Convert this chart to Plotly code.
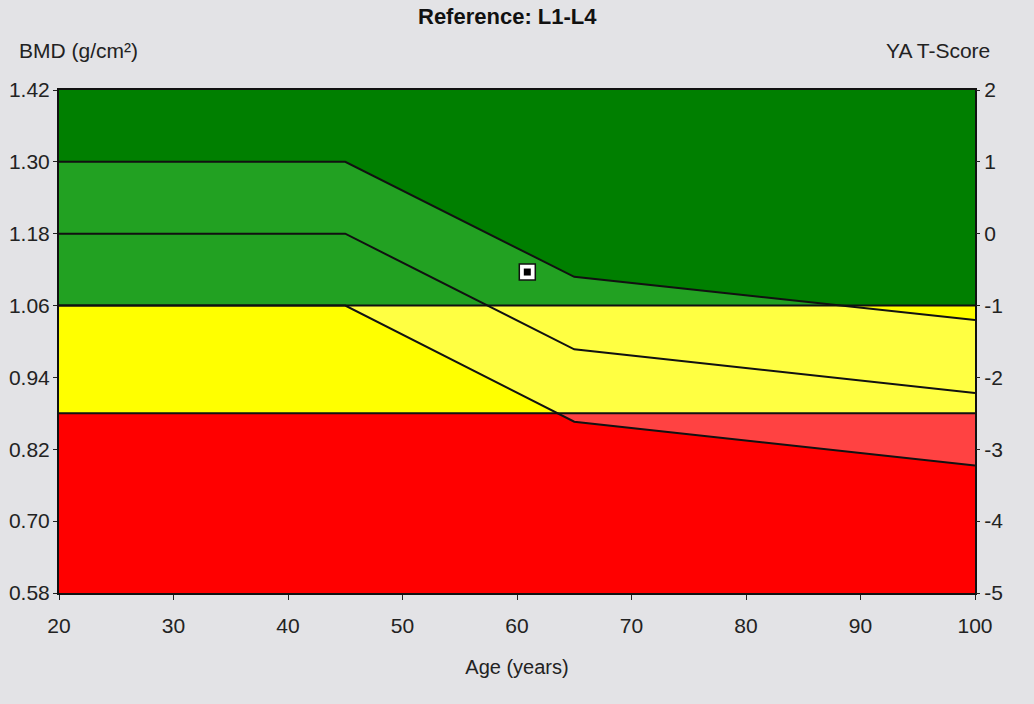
import plotly.graph_objects as go
import numpy as np

# reference curve (young adult +1 SD / mean / -1 SD)
AGES = [20, 45, 65, 100]
PLUS_SD = [1.30, 1.30, 1.108, 1.036]
MEAN = [1.18, 1.18, 0.987, 0.914]
MINUS_SD = [1.06, 1.06, 0.866, 0.793]

# T-score thresholds in BMD units
OSTEOPENIA = 1.06
OSTEOPOROSIS = 0.88

# patient result
PT_AGE = [60.9]
PT_BMD = [1.116]

Y_TICKS = [0.58, 0.70, 0.82, 0.94, 1.06, 1.18, 1.30, 1.42]
T_TICKS = [-5, -4, -3, -2, -1, 0, 1, 2]
X_TICKS = [20, 30, 40, 50, 60, 70, 80, 90, 100]

DARK_GREEN = '#007F00'
MID_GREEN = '#22A122'
YELLOW = '#FFFF00'
PALE_YELLOW = '#FFFF42'
RED = '#FF0000'
PALE_RED = '#FF4242'
BG = '#E3E3E6'
FONT = 'Liberation Sans Narrow, Liberation Sans, Arial, sans-serif'

# fine grid so clipped bands follow the curves exactly
grid = np.linspace(AGES[0], AGES[-1], 801)
hi = np.interp(grid, AGES, PLUS_SD)
lo = np.interp(grid, AGES, MINUS_SD)


def band(upper, lower, color):
    xs = np.concatenate([grid, grid[::-1]])
    ys = np.concatenate([upper, lower[::-1]])
    return go.Scatter(x=xs, y=ys, fill='toself', fillcolor=color, mode='none',
                      hoverinfo='skip', showlegend=False)


ymin, ymax = Y_TICKS[0], Y_TICKS[-1]
full_top = np.full_like(grid, ymax)
full_bot = np.full_like(grid, ymin)

fig = go.Figure()
# zones, painted bottom-up
fig.add_trace(band(full_top, full_bot, DARK_GREEN))
fig.add_trace(band(hi, lo, MID_GREEN))
fig.add_trace(band(np.full_like(grid, OSTEOPENIA), full_bot, YELLOW))
y_up = np.minimum(hi, OSTEOPENIA)
y_lo = np.minimum(np.maximum(lo, OSTEOPOROSIS), y_up)
fig.add_trace(band(y_up, y_lo, PALE_YELLOW))
fig.add_trace(band(np.full_like(grid, OSTEOPOROSIS), full_bot, RED))
r_up = np.full_like(grid, OSTEOPOROSIS)
r_lo = np.minimum(lo, OSTEOPOROSIS)
fig.add_trace(band(r_up, r_lo, PALE_RED))

# threshold lines
for lvl in [OSTEOPENIA, OSTEOPOROSIS]:
    fig.add_trace(go.Scatter(x=[AGES[0], AGES[-1]], y=[lvl, lvl], mode='lines',
                             line=dict(color='#111111', width=2),
                             hoverinfo='skip', showlegend=False))

# reference curves
for c in [PLUS_SD, MEAN, MINUS_SD]:
    fig.add_trace(go.Scatter(x=AGES, y=c, mode='lines',
                             line=dict(color='#111111', width=2),
                             hoverinfo='skip', showlegend=False))

# patient point
fig.add_trace(go.Scatter(x=PT_AGE, y=PT_BMD, mode='markers',
                         marker=dict(symbol='square', size=16, color='white',
                                     line=dict(color='#111111', width=1.5)),
                         showlegend=False))
fig.add_trace(go.Scatter(x=PT_AGE, y=PT_BMD, mode='markers',
                         marker=dict(symbol='square', size=7, color='black'),
                         showlegend=False))

# dummy trace to activate the T-score axis
fig.add_trace(go.Scatter(x=[AGES[0]], y=[T_TICKS[0]], yaxis='y2', mode='markers',
                         marker=dict(opacity=0), hoverinfo='skip', showlegend=False))

tick_font = dict(family=FONT, size=21, color='#222222')

fig.update_layout(
    width=1034, height=704,
    margin=dict(l=59, r=59, t=90, b=111),
    paper_bgcolor=BG, plot_bgcolor=DARK_GREEN,
    font=dict(family=FONT, color='#222222'),
    xaxis=dict(range=[AGES[0], AGES[-1]], tickvals=X_TICKS, showgrid=False,
               zeroline=False, ticks='outside', ticklen=5, tickcolor='#222222',
               showline=True, linecolor='#111111', linewidth=2, mirror=True,
               tickfont=dict(family=FONT, size=21, color='#222222'),
               ticklabelstandoff=8, automargin=False,
               title=dict(text='Age (years)', font=dict(family=FONT, size=20),
                          standoff=24)),
    yaxis=dict(range=[ymin, ymax], tickvals=Y_TICKS,
               ticktext=['%.2f' % v for v in Y_TICKS], showgrid=False,
               zeroline=False, ticks='outside', ticklen=4, tickcolor='#222222',
               showline=True, linecolor='#111111', linewidth=2, mirror=True,
               tickfont=tick_font, ticklabelstandoff=-1, automargin=False),
    yaxis2=dict(range=[T_TICKS[0], T_TICKS[-1]], tickvals=T_TICKS,
                ticktext=[str(v) if v >= 0 else '-' + str(-v) for v in T_TICKS],
                overlaying='y', side='right', showgrid=False, zeroline=False,
                ticks='outside', ticklen=4, tickcolor='#222222',
                tickfont=tick_font, automargin=False),
    annotations=[
        dict(text='<b>Reference: L1-L4</b>', xref='paper', yref='paper',
             x=0.5, xshift=-10, y=1, yshift=74, xanchor='center', yanchor='middle',
             showarrow=False, font=dict(family=FONT, size=22, color='#111111')),
        dict(text='BMD (g/cm²)', xref='paper', yref='paper',
             x=0, xshift=-42, y=1, yshift=40, xanchor='left', yanchor='middle',
             showarrow=False, font=dict(family=FONT, size=21)),
        dict(text='YA T-Score', xref='paper', yref='paper',
             x=1, xshift=17, y=1, yshift=40, xanchor='right', yanchor='middle',
             showarrow=False, font=dict(family=FONT, size=21)),
    ],
)

fig.write_html("out.html", config={'displayModeBar': False},
               post_script="document.body.style.margin='0px';")
